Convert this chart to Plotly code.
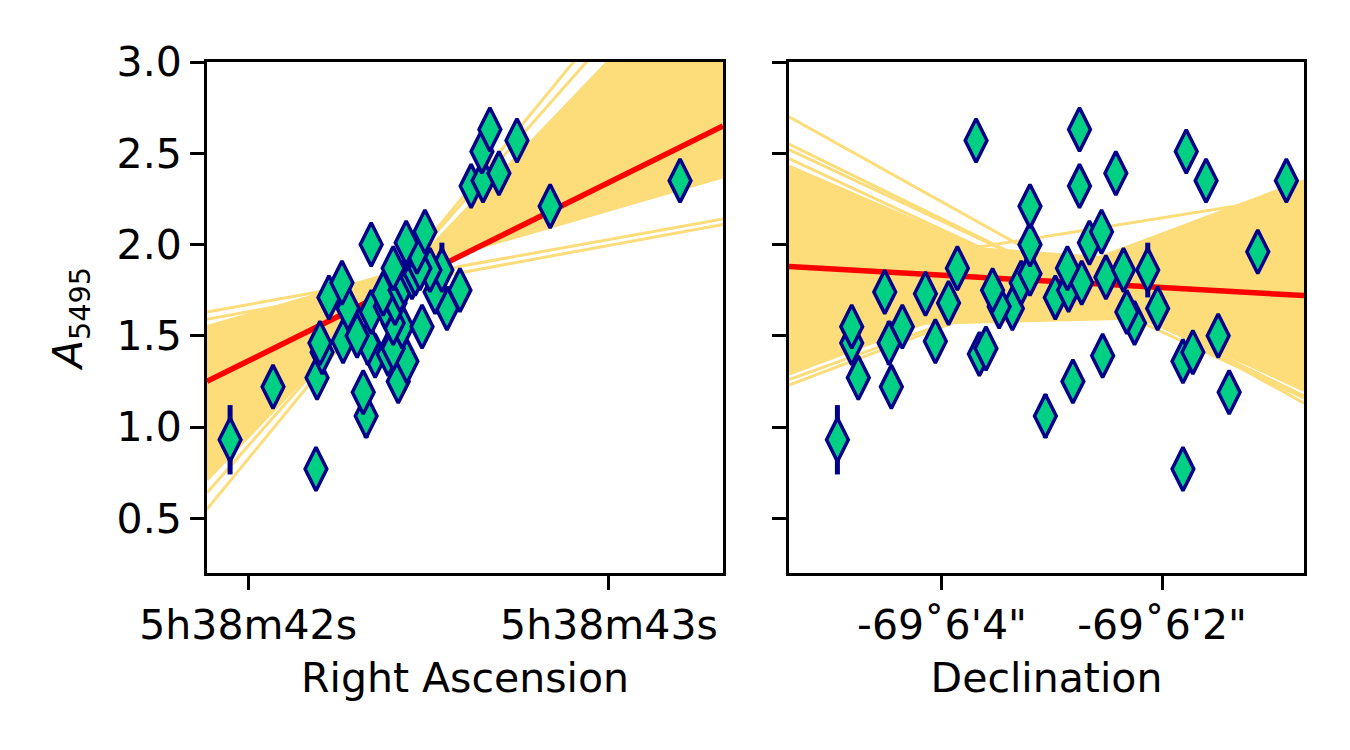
import numpy as np
import plotly.graph_objects as go

# --- measured extinction per star -------------------------------------------
ra_sec = [42.188, 41.950, 42.327, 42.319, 42.069, 42.416, 42.191, 42.440, 42.352, 42.388,
          42.205, 42.402, 42.199, 42.332, 42.263, 42.302, 42.427, 42.482, 42.402, 42.341,
          42.551, 42.277, 42.380, 42.407, 42.224, 42.374, 42.518, 42.587, 42.421, 42.432,
          42.260, 42.454, 42.463, 42.537, 42.504, 42.402, 42.476, 42.468, 42.341, 42.438,
          42.490, 42.837, 42.618, 42.651, 43.197, 42.695, 42.648, 42.745, 42.670]
dec_arcsec = [1.81, 4.95, 3.06, 1.39, 4.46, 2.81, 4.76, 1.81, 2.54, 3.66,
              1.72, 3.60, 4.82, 4.48, 4.06, 1.49, 4.82, 4.36, 2.25, 2.32,
              3.36, 2.04, 3.48, 3.94, 2.97, 4.15, 4.52, 3.54, 2.85, 3.28,
              2.73, 2.51, 3.20, 2.13, 2.35, 3.86, 2.86, 1.13, 3.20, 2.66,
              2.55, 3.20, 2.75, 1.60, 0.87, 2.42, 1.78, 3.69, 2.75]
a5495 = [0.77, 0.93, 1.06, 1.19, 1.22, 1.25, 1.27, 1.36, 1.39, 1.40,
         1.41, 1.43, 1.46, 1.46, 1.47, 1.50, 1.55, 1.55, 1.57, 1.63,
         1.65, 1.65, 1.66, 1.68, 1.71, 1.73, 1.74, 1.75, 1.75, 1.79,
         1.79, 1.82, 1.84, 1.86, 1.86, 1.87, 1.87, 1.96, 2.00, 2.01,
         2.07, 2.21, 2.32, 2.35, 2.35, 2.39, 2.51, 2.57, 2.63]
a_err = [0.04, 0.19, 0.12, 0.04, 0.10, 0.04, 0.10, 0.09, 0.04, 0.04,
         0.04, 0.04, 0.10, 0.12, 0.07, 0.04, 0.04, 0.04, 0.04, 0.04,
         0.04, 0.04, 0.04, 0.04, 0.04, 0.04, 0.04, 0.04, 0.04, 0.04,
         0.04, 0.04, 0.04, 0.15, 0.04, 0.04, 0.04, 0.04, 0.04, 0.04,
         0.04, 0.04, 0.04, 0.04, 0.04, 0.04, 0.04, 0.04, 0.04]

# --- fits: (value at left edge, value at right edge) ---------------------------
ra_span = [41.886, 43.316]
ra_best = [1.25, 2.65]
ra_core = [(0.71, 3.66), (1.55, 2.37), (1.00, 3.20), (1.30, 2.80)]
ra_extra = [(1.63, 2.14), (1.59, 2.11), (0.64, 3.85), (0.55, 4.00)]

dec_span = [5.39, 0.71]
dec_best = [1.88, 1.72]
dec_core = [(2.43, 1.21), (1.29, 2.35), (2.05, 1.85), (1.55, 1.62)]
dec_extra = [(2.70, 1.13), (2.55, 1.17), (2.52, 1.20), (2.47, 1.16),
             (1.26, 2.28), (1.23, 2.30), (1.82, 2.27)]

ytick_vals = [0.5, 1.0, 1.5, 2.0, 2.5, 3.0]
ra_tick_vals = [42, 43]
ra_tick_text = ["5h38m42s", "5h38m43s"]
dec_tick_vals = [4, 2]
dec_tick_text = ["-69˚6'4\"", "-69˚6'2\""]

FAN = "#fddc7a"
FONT = "DejaVu Sans"
FS = 41

fig = go.Figure()


def add_panel(span, best, core, extra, xs, xa, ya):
    t = np.linspace(0, 1, 300)
    xg = span[0] + (span[1] - span[0]) * t
    ys = np.array([a + (b - a) * t for a, b in core])
    fig.add_trace(go.Scatter(x=xg, y=ys.min(axis=0), mode="lines", line=dict(width=0, color=FAN),
                             xaxis=xa, yaxis=ya, hoverinfo="skip"))
    fig.add_trace(go.Scatter(x=xg, y=ys.max(axis=0), mode="lines", line=dict(width=0, color=FAN),
                             fill="tonexty", fillcolor=FAN, xaxis=xa, yaxis=ya, hoverinfo="skip"))
    for a, b in core + extra:
        fig.add_trace(go.Scatter(x=span, y=[a, b], mode="lines", line=dict(width=3, color=FAN),
                                 xaxis=xa, yaxis=ya, hoverinfo="skip"))
    fig.add_trace(go.Scatter(x=span, y=best, mode="lines", line=dict(width=5.5, color="#ff0000"),
                             xaxis=xa, yaxis=ya))
    fig.add_trace(go.Scatter(
        x=xs, y=a5495, mode="markers", xaxis=xa, yaxis=ya,
        error_y=dict(type="data", array=a_err, color="#00008b", thickness=5, width=0),
        marker=dict(symbol="diamond-tall", size=31, color="#00d084",
                    line=dict(color="#00008b", width=3.5)),
    ))


add_panel(ra_span, ra_best, ra_core, ra_extra, ra_sec, "x", "y")
add_panel(dec_span, dec_best, dec_core, dec_extra, dec_arcsec, "x2", "y2")

axis_common = dict(showline=True, linecolor="black", linewidth=3, mirror=True,
                   ticks="outside", ticklen=14, tickwidth=3, tickcolor="black",
                   showgrid=False, zeroline=False, automargin=False,
                   tickfont=dict(family=FONT, size=FS, color="black"))

# plot area: x 207..1304, y 62..573 on the page (page body adds 8px)
fig.update_layout(
    width=1350, height=750,
    margin=dict(l=199, r=54, t=54, b=185),
    paper_bgcolor="white", plot_bgcolor="white",
    showlegend=False,
    font=dict(family=FONT, size=FS, color="black"),
    xaxis=dict(domain=[0, 516 / 1097], range=ra_span, tickvals=ra_tick_vals,
               ticktext=ra_tick_text, anchor="y",
               title=dict(text="Right Ascension", font=dict(family=FONT, size=FS), standoff=16),
               **axis_common),
    yaxis=dict(domain=[0, 1], range=[0.2, 3.0], tickvals=ytick_vals,
               tickformat=".1f", anchor="x",
               title=dict(text="<i>A</i><sub>5495</sub>", font=dict(family=FONT, size=FS), standoff=22),
               **axis_common),
    xaxis2=dict(domain=[582 / 1097, 1], range=dec_span, tickvals=dec_tick_vals,
                ticktext=dec_tick_text, anchor="y2",
                title=dict(text="Declination", font=dict(family=FONT, size=FS), standoff=16),
                **axis_common),
    yaxis2=dict(domain=[0, 1], range=[0.2, 3.0], tickvals=ytick_vals,
                showticklabels=False, anchor="x2", **axis_common),
)

fig.write_html("out.html")
